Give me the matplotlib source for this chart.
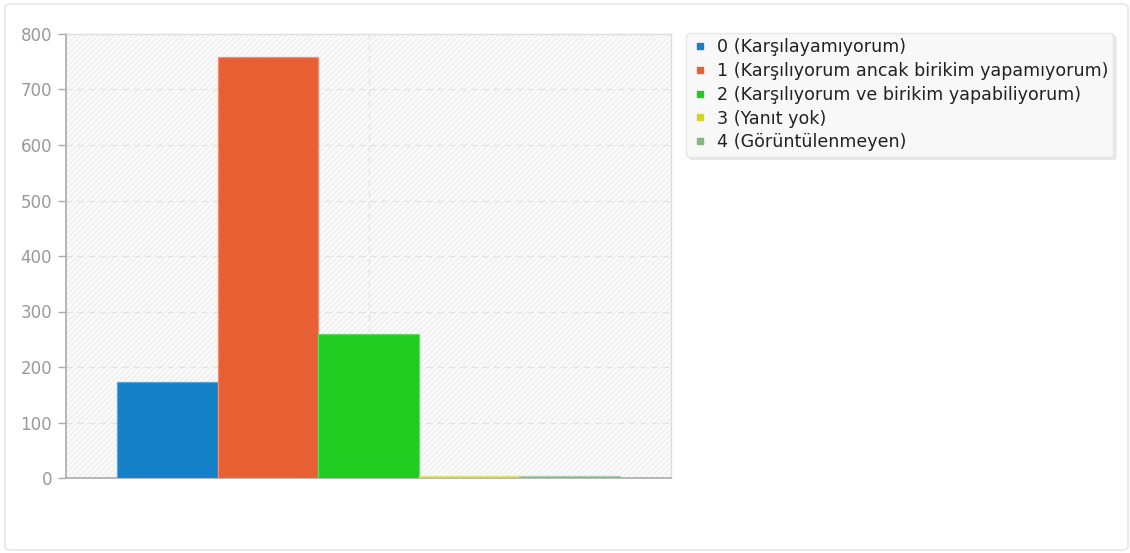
import numpy as np
import matplotlib
matplotlib.use("Agg")
import matplotlib.pyplot as plt
from matplotlib.lines import Line2D
from matplotlib.patches import FancyBboxPatch, Rectangle
from matplotlib.colors import to_rgb

LABELS = ["0 (Karşılayamıyorum)",
          "1 (Karşılıyorum ancak birikim yapamıyorum)",
          "2 (Karşılıyorum ve birikim yapabiliyorum)",
          "3 (Yanıt yok)",
          "4 (Görüntülenmeyen)"]
VALUES = [173, 759, 260, 3, 3]
COLORS = ["#1380c8", "#e85f34", "#20cc20", "#d4d420", "#80b880"]
YTICKS = [0, 100, 200, 300, 400, 500, 600, 700, 800]

plt.rcParams["hatch.linewidth"] = 0.7
plt.rcParams["hatch.color"] = "#ebebeb"


def lighten(c, f=0.3):
    r, g, b = to_rgb(c)
    return (r + (1 - r) * f, g + (1 - g) * f, b + (1 - b) * f)


fig = plt.figure(figsize=(11.3, 5.53), dpi=100)
fig.patch.set_facecolor("white")

# rounded outer frame
fig.patches.append(FancyBboxPatch((5 / 1130, 3 / 553), 1123 / 1130, 546 / 553,
                                  boxstyle="round,pad=0,rounding_size=0.006",
                                  transform=fig.transFigure, facecolor="none",
                                  edgecolor="#e2e2e2", linewidth=1.0))

ax = fig.add_axes([66 / 1130, 75 / 553, 605 / 1130, 444 / 553])
ax.set_facecolor("#fafafa")
ax.add_patch(Rectangle((0, 0), 1, 1, transform=ax.transAxes, facecolor="none",
                       edgecolor="#ebebeb", hatch="//////", linewidth=0, zorder=0))

n = len(VALUES)
group = 0.83
w = group / n
xs = -group / 2 + w / 2 + np.arange(n) * w
for x, v, c in zip(xs, VALUES, COLORS):
    ax.bar(x, v, width=w, color=c, edgecolor=lighten(c), linewidth=0.9, zorder=3)

ax.set_xlim(-0.5, 0.5)
ax.set_ylim(0, 800)
ax.set_yticks(YTICKS)
ax.set_xticks([0])
ax.set_xticklabels([""])
ax.tick_params(axis="x", length=0)
ax.tick_params(axis="y", colors="#aaaaaa", labelsize=12, length=6, width=1,
               labelcolor="#999999", pad=4)
ax.grid(True, color="#e2e2e2", linestyle=(0, (5, 4)), linewidth=0.9, zorder=1)
ax.set_axisbelow(True)
for s in ["left", "bottom"]:
    ax.spines[s].set_color("#aaaaaa")
    ax.spines[s].set_linewidth(1.2)
for s in ["top", "right"]:
    ax.spines[s].set_color("#dddddd")
    ax.spines[s].set_linewidth(1.0)

handles = [Line2D([], [], marker="s", linestyle="none", markersize=5,
                  markerfacecolor=c, markeredgecolor=c) for c in COLORS]
leg = fig.legend(handles, LABELS, loc="upper left",
                 bbox_to_anchor=(686 / 1130, 1 - 33 / 553),
                 fontsize=12.6, handlelength=0.95, handletextpad=0.5,
                 labelspacing=0.33, borderpad=0.3, borderaxespad=0,
                 frameon=True, fancybox=True,
                 shadow={"color": "black", "alpha": 0.07, "ox": 2, "oy": -2},
                 framealpha=1)
leg.get_frame().set_facecolor("#f8f8f8")
leg.get_frame().set_edgecolor("#e6e6e6")
for t in leg.get_texts():
    t.set_color("#222222")

fig.savefig("out.png", dpi=100)
